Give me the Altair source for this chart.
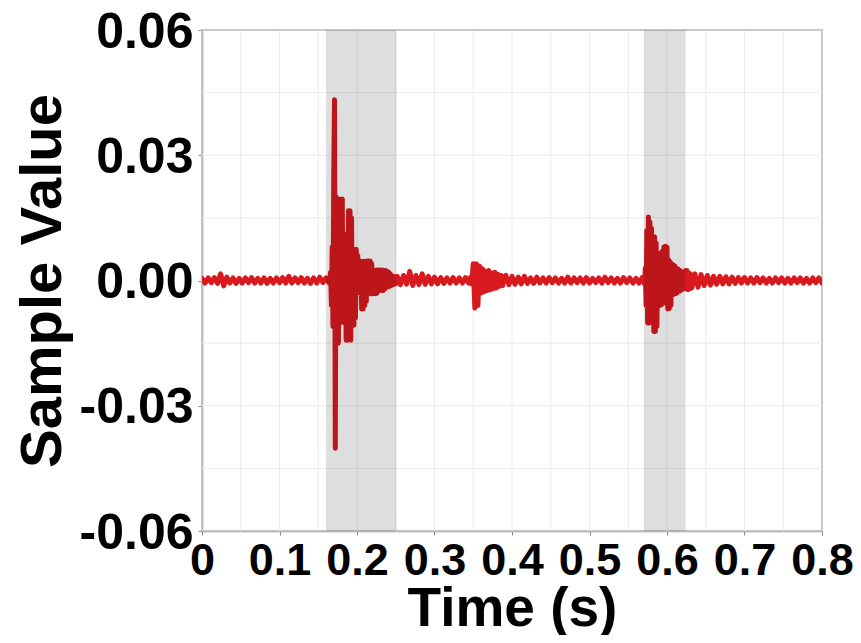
import altair as alt
import pandas as pd

# ---- waveform samples (segment start time, sample step, values) ----
seg_starts = [0.0, 0.166, 0.252, 0.346, 0.392, 0.570, 0.632]
seg_steps = [0.004, 0.001, 0.004, 0.002, 0.004, 0.001, 0.004]

quiet_a = [0.0005, -0.0006, 0.0006, -0.0005, 0.0007, -0.0007, 0.0016, -0.0013, 0.0008, -0.0006,
           0.0006, -0.0007, 0.0005, -0.0006, 0.0006, -0.0005, 0.0007, -0.0006, 0.0005, -0.0006,
           0.0006, -0.0007, 0.0005, -0.0006, 0.0006, -0.0005, 0.0007, -0.0006, 0.0010, -0.0006,
           0.0006, -0.0005, 0.0007, -0.0006, 0.0005, -0.0007, 0.0006, -0.0006, 0.0008, -0.0005,
           0.0006, -0.0006]

burst_1 = [0.002, -0.006, 0.008, -0.011, 0.025, 0.0433, -0.0402, 0.020, -0.015, 0.0195,
           -0.0150, 0.0195, -0.010, 0.019, -0.010, 0.0195, -0.010, 0.011, -0.009, 0.011,
           -0.0143, 0.0110, -0.0143, 0.0167, -0.012, 0.0167, -0.0143, 0.0150, -0.0107, 0.0075,
           -0.0107, 0.0070, -0.009, 0.0075, -0.0025, 0.0060, -0.0025, 0.0046, -0.0030, 0.0046,
           -0.0068, 0.0040, -0.0068, 0.0046, -0.0060, 0.0030, -0.0050, 0.0047, -0.0030, 0.0047,
           -0.0025, 0.0047, -0.0032, 0.0040, -0.0032, 0.0022, -0.0030, 0.0020, -0.0032, 0.0025,
           -0.0030, 0.0025, -0.0025, 0.0025, -0.0020, 0.0025, -0.0024, 0.0025, -0.0024, 0.0024,
           -0.0020, 0.0024, -0.0016, 0.0022, -0.0015, 0.0020, -0.0014, 0.0016, -0.0012, 0.0012,
           -0.0010, 0.0010, -0.0009, 0.0008, -0.0008]

quiet_c = [0.0010, -0.0010, 0.0012, -0.0009, 0.0022, -0.0012, 0.0012, -0.0010, 0.0016, -0.0009,
           0.0010, -0.0008, 0.0008, -0.0008, 0.0007, -0.0007, 0.0006, -0.0006, 0.0007, -0.0006,
           0.0006, -0.0006, 0.0007, -0.0006]

event_2 = [0.0007, -0.0008, 0.0040, -0.0066, 0.0040, -0.0060, 0.0035, -0.0030, 0.0028, -0.0027,
           0.0022, -0.0024, 0.0024, -0.0022, 0.0018, -0.0020, 0.0020, -0.0018, 0.0015, -0.0014,
           0.0012, -0.0012, 0.0010]

quiet_e = [0.0012, -0.0010, 0.0010, -0.0009, 0.0008, -0.0008, 0.0010, -0.0007, 0.0006, -0.0007,
           0.0008, -0.0006, 0.0006, -0.0006, 0.0007, -0.0005, 0.0006, -0.0006, 0.0005, -0.0006,
           0.0008, -0.0006, 0.0006, -0.0005, 0.0006, -0.0006, 0.0007, -0.0006, 0.0005, -0.0005,
           0.0006, -0.0006, 0.0008, -0.0005, 0.0006, -0.0006, 0.0005, -0.0006, 0.0007, -0.0005,
           0.0006, -0.0006, 0.0005, -0.0006, 0.0007]

burst_3 = [0.0007, -0.0008, 0.0030, -0.0060, 0.0120, -0.0102, 0.0152, -0.0102, 0.0140, -0.0090,
           0.0125, -0.0100, 0.0105, -0.0122, 0.0105, -0.0122, 0.0090, -0.0110, 0.0065, -0.0060,
           0.0062, -0.0060, 0.0065, -0.0058, 0.0070, -0.0050, 0.0080, -0.0045, 0.0082, -0.0055,
           0.0080, -0.0068, 0.0050, -0.0067, 0.0045, -0.0060, 0.0040, -0.0035, 0.0038, -0.0032,
           0.0035, -0.0032, 0.0030, -0.0030, 0.0028, -0.0025, 0.0025, -0.0025, 0.0022, -0.0022,
           0.0020, -0.0020, 0.0020, -0.0018, 0.0024, -0.0020, 0.0024, -0.0022, 0.0018, -0.0020,
           0.0016]

quiet_g = [-0.0018, 0.0016, -0.0016, 0.0014, -0.0012, 0.0012, -0.0011, 0.0010, -0.0009, 0.0010,
           -0.0008, 0.0009, -0.0008, 0.0008, -0.0007, 0.0007, -0.0006, 0.0007, -0.0006, 0.0006,
           -0.0006, 0.0007, -0.0005, 0.0006, -0.0006, 0.0005, -0.0006, 0.0006, -0.0005, 0.0006,
           -0.0006, 0.0005, -0.0006, 0.0006, -0.0005, 0.0006, -0.0006, 0.0005, -0.0006, 0.0006,
           -0.0005, 0.0006, -0.0006]

segments = [quiet_a, burst_1, quiet_c, event_2, quiet_e, burst_3, quiet_g]

# shaded intervals
shade_start = [0.160, 0.570]
shade_end = [0.251, 0.624]

# axes
x_ticks = [0.0, 0.1, 0.2, 0.3, 0.4, 0.5, 0.6, 0.7, 0.8]
y_ticks = [-0.06, -0.03, 0.0, 0.03, 0.06]
x_grid = [0.05 * i for i in range(17)]
y_grid = [-0.06 + 0.015 * i for i in range(9)]

rows = []
for start, step, vals in zip(seg_starts, seg_steps, segments):
    for i, v in enumerate(vals):
        rows.append({"t": round(start + i * step, 4), "v": v})
df = pd.DataFrame(rows)
shade = pd.DataFrame({"start": shade_start, "end": shade_end})

FONT = "Liberation Sans"
xs = alt.Scale(domain=[0, 0.8], nice=False, zero=False)
ys = alt.Scale(domain=[-0.06, 0.06], nice=False, zero=False)

x_axis = alt.Axis(
    values=x_ticks, grid=False, title="Time (s)",
    labelExpr="datum.value == 0 ? '0' : format(datum.value, '.1f')",
    labelFont=FONT, labelFontSize=45, labelFontWeight="bold", labelColor="black",
    labelPadding=3, labelOverlap=False, labelFlush=False,
    tickSize=4, tickColor="#888888", domainColor="#888888", domainWidth=1.5,
    titleFont=FONT, titleFontSize=55, titleFontWeight="bold", titleColor="black",
    titlePadding=-1)
y_axis = alt.Axis(
    values=y_ticks, grid=False, title="Sample Value",
    labelExpr="(datum.value < 0 ? '-' : '') + format(abs(datum.value), '.2f')",
    labelFont=FONT, labelFontSize=50, labelFontWeight="bold", labelColor="black",
    labelPadding=5, labelOverlap=False, labelFlush=False, labelOffset=2,
    tickSize=4, tickColor="#888888", domainColor="#888888", domainWidth=1.5,
    titleFont=FONT, titleFontSize=58, titleFontWeight="bold", titleColor="black",
    titlePadding=7)

xgrid = alt.Chart(pd.DataFrame({"g": x_grid})).mark_rule(color="#ebebeb", strokeWidth=1).encode(
    x=alt.X("g:Q", scale=xs, axis=x_axis)
)
ygrid = alt.Chart(pd.DataFrame({"g": y_grid})).mark_rule(color="#ebebeb", strokeWidth=1).encode(
    y=alt.Y("g:Q", scale=ys, axis=y_axis)
)

line = alt.Chart(df).mark_line(color="#d8191e", strokeWidth=5, strokeJoin="round",
                               strokeCap="round", clip=True).encode(
    x=alt.X("t:Q", scale=xs, axis=x_axis),
    y=alt.Y("v:Q", scale=ys, axis=y_axis),
    order="t:Q",
)

rects = alt.Chart(shade).mark_rect(color="black", opacity=0.13).encode(
    x=alt.X("start:Q", scale=xs, axis=x_axis),
    x2="end:Q",
)

chart = alt.layer(xgrid, ygrid, line, rects).properties(
    width=620, height=501,
    autosize=alt.AutoSizeParams(type="none"),
    padding={"left": 194, "top": 22, "right": 31, "bottom": 104},
).configure_view(stroke="#888888", strokeWidth=1.5)

chart.save("out.html", embed_options={"renderer": "svg", "actions": False})
